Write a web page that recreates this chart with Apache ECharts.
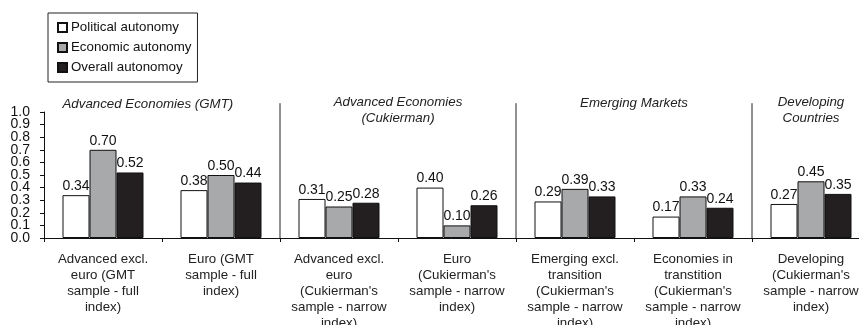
<!DOCTYPE html>
<html><head><meta charset="utf-8">
<script src="https://cdn.jsdelivr.net/npm/echarts@6/dist/echarts.min.js"></script>
<style>html,body{margin:0;padding:0;background:#fff}#c{width:859px;height:325px}</style>
</head><body><div id="c"></div>
<script>
const categories = [
  "Advanced excl.\neuro (GMT\nsample - full\nindex)",
  "Euro (GMT\nsample - full\nindex)",
  "Advanced excl.\neuro\n(Cukierman's\nsample - narrow\nindex)",
  "Euro\n(Cukierman's\nsample - narrow\nindex)",
  "Emerging excl.\ntransition\n(Cukierman's\nsample - narrow\nindex)",
  "Economies in\ntranstition\n(Cukierman's\nsample - narrow\nindex)",
  "Developing\n(Cukierman's\nsample - narrow\nindex)"
];
const political = [0.34, 0.38, 0.31, 0.40, 0.29, 0.17, 0.27];
const economic  = [0.70, 0.50, 0.25, 0.10, 0.39, 0.33, 0.45];
const overall   = [0.52, 0.44, 0.28, 0.26, 0.33, 0.24, 0.35];
const seriesNames = ["Political autonomy", "Economic autonomy", "Overall autonomoy"];
const yTickLabels = ["0.0", "0.1", "0.2", "0.3", "0.4", "0.5", "0.6", "0.7", "0.8", "0.9", "1.0"];
const separators = [2, 4, 6];
const groupTitles = ["Advanced Economies (GMT)", "Advanced Economies\n(Cukierman)", "Emerging Markets", "Developing\nCountries"];
const groupTitlePos = [[0.88, 1.06], [3.0, 1.015], [5.0, 1.07], [6.5, 1.015]];

const font = "'Liberation Sans', Arial, sans-serif";
const chart = echarts.init(document.getElementById('c'));
const colors = ['#ffffff', '#a7a9ab', '#231f20'];
function barSeries(name, data, color) {
  return {
    name: name, type: 'bar', data: data, barWidth: 27, barGap: '0%',
    itemStyle: { color: color, borderColor: '#111', borderWidth: 1 },
    label: { show: true, position: 'top', distance: 2, color: '#111', fontSize: 14, fontFamily: font,
      formatter: p => p.value.toFixed(2) }
  };
}
chart.setOption({
  animation: false,
  legend: {
    orient: 'vertical', left: 48, top: 13, width: 140,
    padding: [7, 6, 7, 9], borderColor: '#222', borderWidth: 1,
    itemWidth: 9, itemHeight: 9, itemGap: 5,
    icon: 'rect',
    textStyle: { fontSize: 13.3, fontFamily: font, color: '#111', lineHeight: 15, padding: [0, 0, 0, -1] },
    data: seriesNames
  },
  grid: { left: 44, right: -11, top: 112, bottom: 87, containLabel: false, outerBoundsMode: 'none' },
  xAxis: [{
    type: 'category', data: categories,
    axisLine: { lineStyle: { color: '#111', width: 1 } },
    axisTick: { show: true, inside: false, length: 4, lineStyle: { color: '#111' } },
    axisLabel: { interval: 0, margin: 13, fontSize: 13.3, lineHeight: 16, fontFamily: font, color: '#222', align: 'center' }
  }, {
    type: 'value', min: 0, max: 7, show: false
  }],
  yAxis: {
    type: 'value', min: 0, max: 1, interval: 0.1,
    splitLine: { show: false },
    axisLine: { show: true, lineStyle: { color: '#111' } },
    axisTick: { show: true, length: 4, lineStyle: { color: '#111' } },
    axisLabel: { show: false }
  },
  series: [
    barSeries(seriesNames[0], political, colors[0]),
    barSeries(seriesNames[1], economic, colors[1]),
    barSeries(seriesNames[2], overall, colors[2]),
    {
      type: 'custom', xAxisIndex: 1, clip: false, silent: true,
      data: separators.map(s => [s]),
      renderItem: (params, api) => {
        const p0 = api.coord([api.value(0), 0]);
        const p1 = api.coord([api.value(0), 1.07]);
        return { type: 'line', shape: { x1: p0[0], y1: p0[1], x2: p1[0], y2: p1[1] }, style: { stroke: '#222', lineWidth: 1 } };
      }
    },
    {
      type: 'custom', xAxisIndex: 1, clip: false, silent: true,
      data: groupTitlePos.map((p, i) => [p[0], p[1], i]),
      renderItem: (params, api) => {
        const p = api.coord([api.value(0), api.value(1)]);
        return { type: 'text', x: p[0], y: p[1], style: { text: groupTitles[api.value(2)], fontSize: 13.3, fontStyle: 'italic', fontFamily: font, fill: '#222', align: 'center', verticalAlign: 'middle', lineHeight: 16 } };
      }
    },
    {
      type: 'custom', xAxisIndex: 1, clip: false, silent: true,
      data: yTickLabels.map((t, i) => [0, parseFloat(t), i]),
      renderItem: (params, api) => {
        const p = api.coord([0, api.value(1)]);
        return { type: 'text', x: p[0] - 14, y: p[1], style: { text: yTickLabels[api.value(2)], fontSize: 14, fontFamily: font, fill: '#111', align: 'right', verticalAlign: 'middle' } };
      }
    }
  ]
});
</script></body></html>
